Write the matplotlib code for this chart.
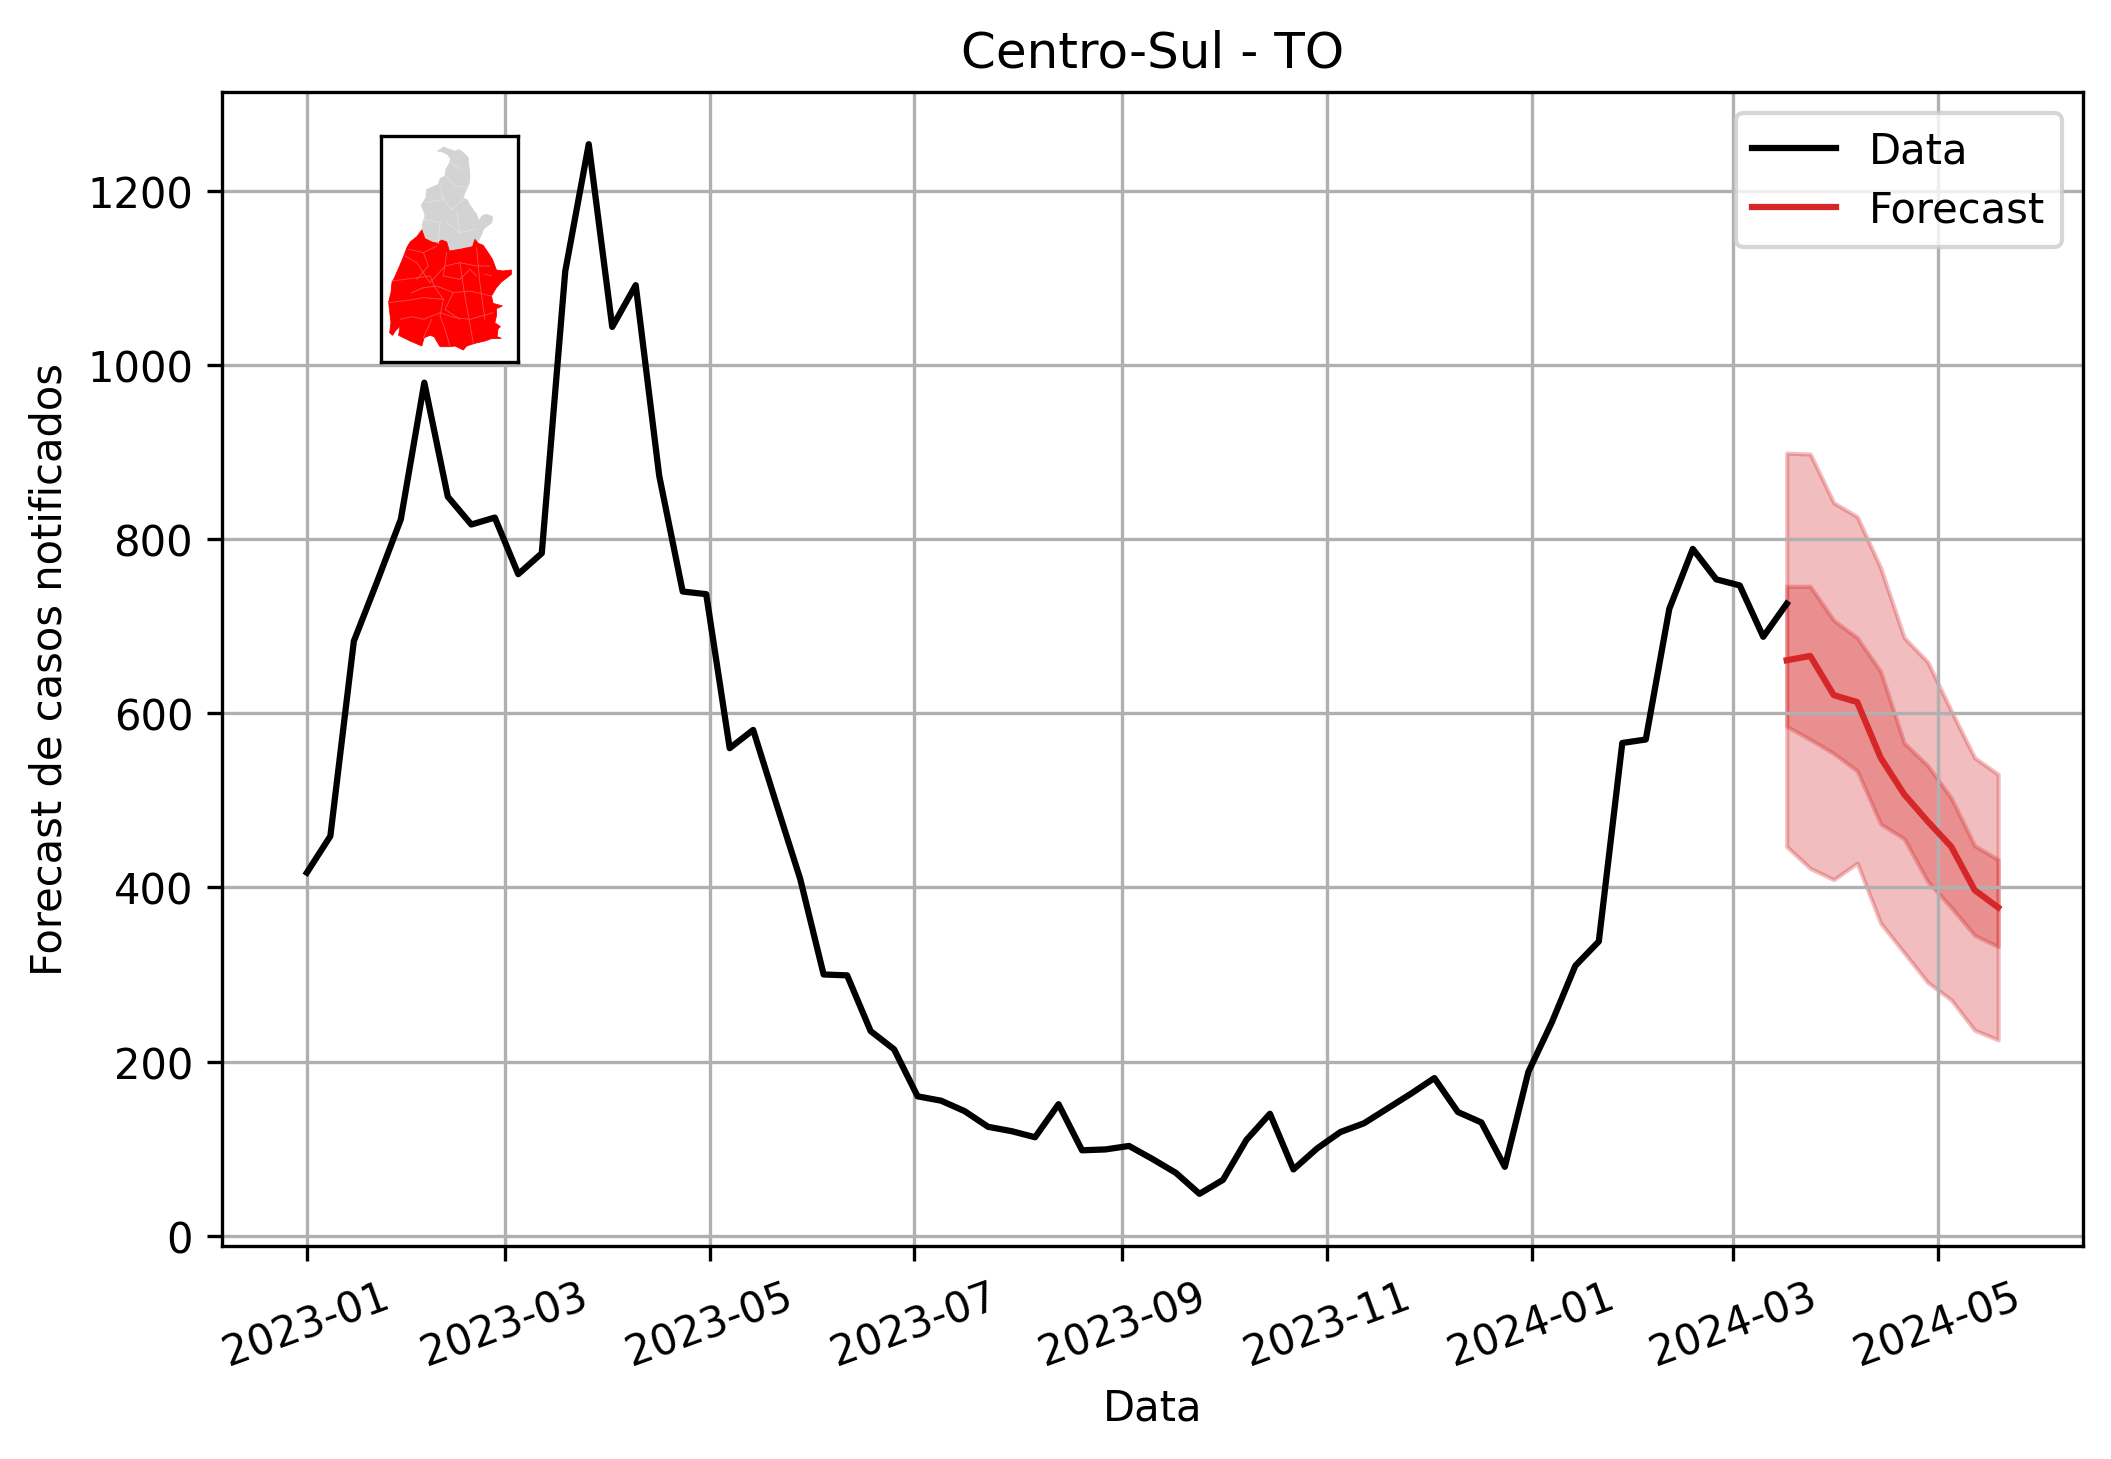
import numpy as np
import pandas as pd
import matplotlib
matplotlib.use("Agg")
import matplotlib.pyplot as plt
from matplotlib.patches import Polygon

data_values = [417, 459, 683, 752, 823, 980, 849, 817, 825, 760, 784, 1108, 1254, 1044, 1092, 873,
               740, 737, 560, 581, 495, 410, 300, 299, 235, 214, 160, 155, 143, 125, 120, 113,
               151, 98, 99, 103, 88, 72, 48, 64, 110, 140, 76, 100, 119, 129, 146, 163, 181, 142,
               130, 79, 188, 245, 310, 338, 566, 570, 720, 789, 754, 747, 688, 726]
data_dates = pd.date_range("2023-01-01", periods=len(data_values), freq="7D")

fc_median = [661, 666, 621, 613, 549, 507, 476, 447, 397, 377]
fc_lo90 = [447, 422, 409, 428, 359, 325, 291, 271, 236, 225]
fc_hi90 = [899, 898, 842, 826, 767, 687, 659, 603, 549, 530]
fc_lo50 = [585, 570, 554, 534, 473, 456, 407, 377, 345, 332]
fc_hi50 = [746, 746, 707, 687, 648, 566, 540, 503, 448, 432]
fc_dates = pd.date_range("2024-03-17", periods=len(fc_median), freq="7D")

# Map outlines (inset pixel space)
map_north = [(232,95),(242,90),(250,83),(262,88),(275,92),(283,96),(298,91),(312,102),(325,115),(327,140),
             (330,170),(328,190),(322,205),(314,222),(310,236),(322,242),(330,258),(350,285),(358,305),
             (366,290),(380,285),(398,292),(396,310),(385,318),(372,328),(365,345),(358,360),(340,382),
             (318,386),(300,392),(268,395),(258,365),(235,372),(205,365),(185,332),(188,310),(195,290),
             (190,272),(183,258),(197,236),(200,210),(220,202),(235,195),(240,178),(255,170),(258,150),
             (268,132),(272,118),(262,105),(248,98)]
map_south = [(185,332),(195,358),(215,368),(232,372),(245,362),(260,368),(268,395),(300,390),(338,382),
             (345,360),(355,372),(370,378),(385,400),(398,420),(410,452),(430,455),(455,452),(455,465),
             (425,488),(410,505),(395,530),(400,552),(428,560),(410,568),(410,590),(405,610),(422,622),
             (415,628),(412,652),(425,657),(395,658),(375,665),(345,672),(320,680),(310,692),(285,680),
             (270,682),(240,682),(222,652),(210,648),(192,655),(185,680),(150,665),(115,648),(120,620),
             (105,635),(97,648),(88,640),(92,610),(88,575),(85,548),(92,520),(95,490),(105,470),(118,440),
             (130,412),(140,385),(150,368),(170,352)]
borders_north = [[(255,170),(290,200),(322,205)], [(200,250),(250,240),(275,270),(310,240)],
                 [(290,280),(300,340),(345,330)], [(190,300),(240,310),(235,372)], [(270,130),(300,150)],
                 [(260,310),(300,340)], [(240,200),(250,240)]]
borders_south = [[(95,485),(150,478),(210,470),(222,500),(250,540),(240,590)], [(85,550),(150,542),(190,535),(250,540)],
                 [(135,410),(170,430),(210,490),(255,440),(300,430),(350,440),(390,440)],
                 [(155,520),(190,505),(230,500),(280,520),(330,515),(395,530)],
                 [(240,590),(255,630),(270,680)], [(120,600),(155,592),(190,600),(240,580),(285,595),(330,600),(400,580)],
                 [(300,430),(310,500),(320,560),(340,670)], [(260,400),(250,470),(300,480),(330,450),(350,470)],
                 [(190,655),(215,600)], [(350,385),(360,490),(375,600)], [(190,400),(205,440),(170,480)],
                 [(375,465),(395,470)], [(145,390),(190,400),(230,380)], [(280,520),(255,570),(300,600)]]
map_xlim = (62, 475)
map_ylim = (728, 50)

fig = plt.figure(figsize=(2111 / 300, 1460 / 300), dpi=300)
ax = fig.add_axes([222.3 / 2111, 1 - 1247.3 / 1460, (2082.7 - 222.3) / 2111, (1247.3 - 92.7) / 1460])

ax.plot(data_dates, data_values, color="black", label="Data")
ax.plot(fc_dates, fc_median, color="tab:red", label="Forecast")
ax.fill_between(fc_dates, fc_lo90, fc_hi90, color="tab:red", alpha=0.3)
ax.fill_between(fc_dates, fc_lo50, fc_hi50, color="tab:red", alpha=0.3)

ax.set_title("Centro-Sul - TO")
ax.set_xlabel("Data", labelpad=3)
ax.set_ylabel("Forecast de casos notificados")
ax.grid(True)
ax.tick_params(axis="x", labelrotation=20)
ax.legend(loc="upper right", labelspacing=0.42)

inset = fig.add_axes([381 / 2111, 1 - 363 / 1460, 137 / 2111, 226 / 1460])
inset.add_patch(Polygon(map_north, closed=True, facecolor="lightgray", edgecolor="lightgray", lw=0.2))
inset.add_patch(Polygon(map_south, closed=True, facecolor="red", edgecolor="red", lw=0.2))
for line in borders_north:
    xs, ys = zip(*line)
    inset.plot(xs, ys, color="#e2e2e2", lw=0.2)
for line in borders_south:
    xs, ys = zip(*line)
    inset.plot(xs, ys, color="#f25050", lw=0.2)
inset.set_xlim(*map_xlim)
inset.set_ylim(*map_ylim)
inset.set_xticks([])
inset.set_yticks([])

fig.savefig("out.png", dpi=300)
